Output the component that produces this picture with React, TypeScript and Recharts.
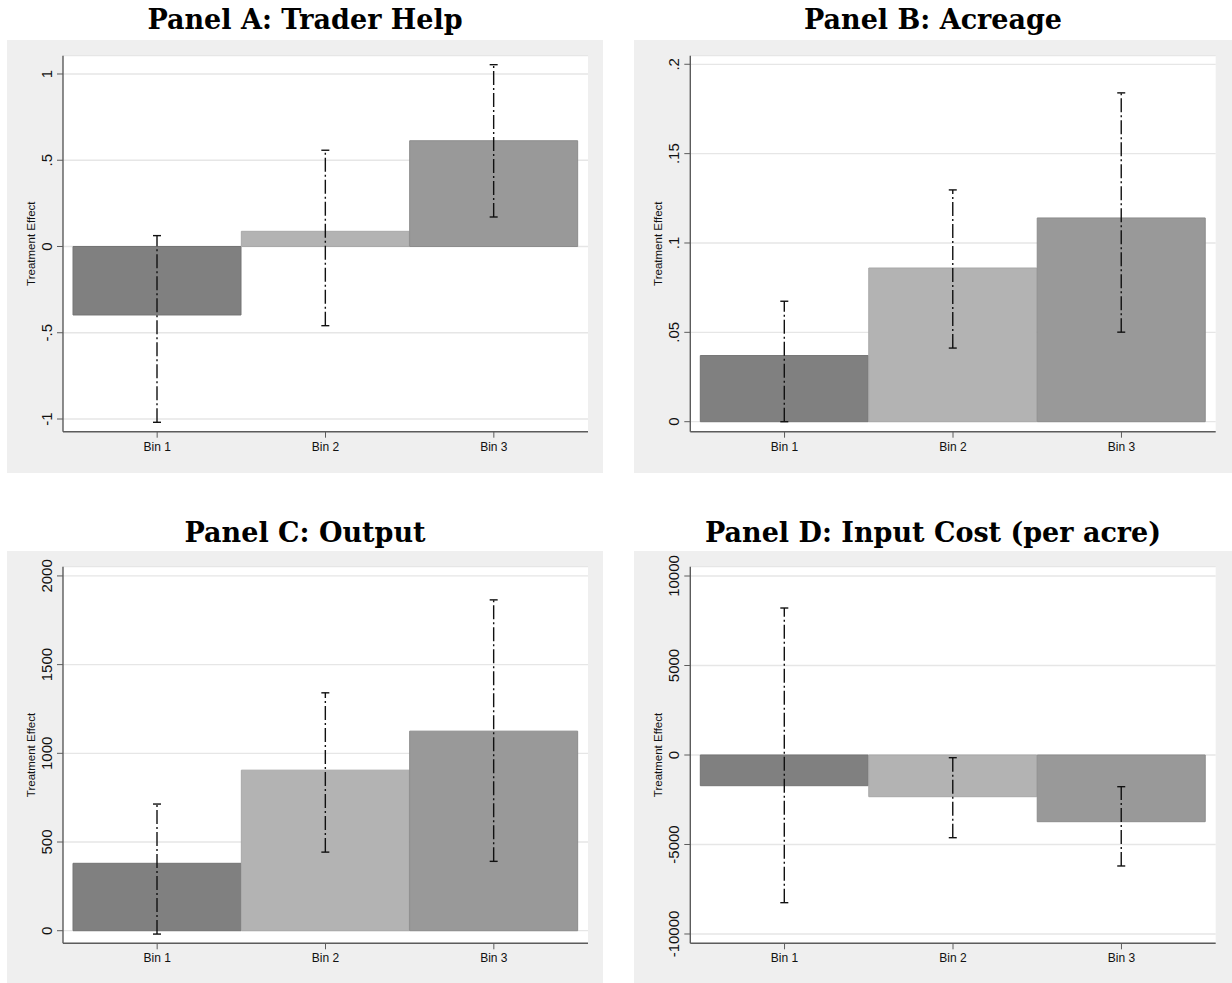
import React from 'react';
import { BarChart, Bar, XAxis, YAxis, CartesianGrid, ErrorBar, Cell } from 'recharts';

// ---------- data ----------
const bins = ['Bin 1', 'Bin 2', 'Bin 3'];
const barColors = ['#808080', '#b3b3b3', '#999999'];
const barStrokes = ['#747474', '#a8a8a8', '#8c8c8c'];

const traderHelpEffect = [-0.397, 0.088, 0.613];
const traderHelpLow = [-1.019, -0.459, 0.171];
const traderHelpHigh = [0.063, 0.558, 1.054];
const traderHelpTicks = [-1, -0.5, 0, 0.5, 1];
const traderHelpTickLabels = ['-1', '-.5', '0', '.5', '1'];

const acreageEffect = [0.037, 0.086, 0.114];
const acreageLow = [0.0, 0.0412, 0.0501];
const acreageHigh = [0.0674, 0.1297, 0.184];
const acreageTicks = [0, 0.05, 0.1, 0.15, 0.2];
const acreageTickLabels = ['0', '.05', '.1', '.15', '.2'];

const outputEffect = [380, 905, 1125];
const outputLow = [-19, 443, 391];
const outputHigh = [714, 1341, 1865];
const outputTicks = [0, 500, 1000, 1500, 2000];
const outputTickLabels = ['0', '500', '1000', '1500', '2000'];

const inputCostEffect = [-1715, -2330, -3726];
const inputCostLow = [-8250, -4620, -6200];
const inputCostHigh = [8212, -150, -1770];
const inputCostTicks = [-10000, -5000, 0, 5000, 10000];
const inputCostTickLabels = ['-10000', '-5000', '0', '5000', '10000'];

const panelTitles = [
  'Panel A: Trader Help',
  'Panel B: Acreage',
  'Panel C: Output',
  'Panel D: Input Cost (per acre)',
];
const yAxisTitle = 'Treatment Effect';

// ---------- helpers ----------
function buildRows(effect: number[], low: number[], high: number[]) {
  return bins.map((b, i) => ({
    bin: b,
    value: effect[i],
    err: [effect[i] - low[i], high[i] - effect[i]],
  }));
}

const SANS = '"Liberation Sans", Arial, Helvetica, sans-serif';
const AXIS_COLOR = '#5c5c5c';
const GRAY_BG = '#efefef';

type PanelProps = {
  left: number;
  top: number;
  width: number;
  height: number;
  plotLeft: number;
  plotRight: number;
  plotTop: number;
  plotBottom: number;
  domain: [number, number];
  ticks: number[];
  tickLabels: string[];
  rows: any[];
};

function Panel(p: PanelProps) {
  const YTick = (props: any) => {
    const { x, y, payload } = props;
    const idx = p.ticks.indexOf(payload.value);
    const label = idx >= 0 ? p.tickLabels[idx] : String(payload.value);
    const bx = x - 3;
    return (
      <text
        x={bx}
        y={y}
        textAnchor="middle"
        transform={`rotate(-90 ${bx} ${y})`}
        fontSize={15}
        fontFamily={SANS}
        fill="#111"
      >
        {label}
      </text>
    );
  };
  const XTick = (props: any) => {
    const { x, y, payload } = props;
    return (
      <text x={x} y={y + 11} textAnchor="middle" fontSize={12} fontFamily={SANS} fill="#111">
        {payload.value}
      </text>
    );
  };
  const YLabel = (props: any) => {
    const vb = props.viewBox || { x: 0, y: 0, width: 0, height: 0 };
    const lx = 28;
    const ly = vb.y + vb.height / 2;
    return (
      <text
        x={lx}
        y={ly}
        textAnchor="middle"
        transform={`rotate(-90 ${lx} ${ly})`}
        fontSize={11.5}
        fontFamily={SANS}
        fill="#111"
      >
        {yAxisTitle}
      </text>
    );
  };
  const yAxisWidth = p.plotLeft;
  const xAxisHeight = p.height - p.plotBottom;
  return (
    <div
      style={{
        position: 'absolute',
        left: p.left,
        top: p.top,
        width: p.width,
        height: p.height,
        background: GRAY_BG,
      }}
    >
      <BarChart
        width={p.width}
        height={p.height}
        data={p.rows}
        margin={{ top: p.plotTop, right: p.width - p.plotRight, left: 0, bottom: 0 }}
        barCategoryGap={0}
        barGap={0}
      >
        <CartesianGrid vertical={false} fill="#ffffff" stroke="#e6e6e6" strokeWidth={1.3} />
        <XAxis
          dataKey="bin"
          height={xAxisHeight}
          padding={{ left: 10, right: 10 }}
          axisLine={{ stroke: AXIS_COLOR, strokeWidth: 1.4 }}
          tickLine={{ stroke: AXIS_COLOR, strokeWidth: 1 }}
          tickSize={6}
          tickMargin={2}
          tick={<XTick />}
          interval={0}
        />
        <YAxis
          type="number"
          width={yAxisWidth}
          domain={p.domain}
          allowDataOverflow
          ticks={p.ticks}
          interval={0}
          axisLine={{ stroke: AXIS_COLOR, strokeWidth: 1.4 }}
          tickLine={{ stroke: AXIS_COLOR, strokeWidth: 1 }}
          tickSize={6}
          tickMargin={2}
          tick={<YTick />}
          label={<YLabel />}
        />
        <Bar dataKey="value" isAnimationActive={false} strokeWidth={1}>
          {p.rows.map((_, i) => (
            <Cell key={i} fill={barColors[i]} stroke={barStrokes[i]} />
          ))}
          <ErrorBar
            dataKey="err"
            direction="y"
            width={4}
            stroke="#111111"
            strokeWidth={1.4}
            strokeDasharray="14 3 2 3"
            isAnimationActive={false}
          />
        </Bar>
      </BarChart>
    </div>
  );
}

export default function App() {
  const rowsA = buildRows(traderHelpEffect, traderHelpLow, traderHelpHigh);
  const rowsB = buildRows(acreageEffect, acreageLow, acreageHigh);
  const rowsC = buildRows(outputEffect, outputLow, outputHigh);
  const rowsD = buildRows(inputCostEffect, inputCostLow, inputCostHigh);
  return (
    <div
      style={{
        position: 'absolute',
        left: 0,
        top: 0,
        width: 1232,
        height: 983,
        background: '#ffffff',
        overflow: 'hidden',
      }}
    >
      <Panel
        left={7}
        top={40}
        width={596}
        height={433}
        plotLeft={56}
        plotRight={581}
        plotTop={15.7}
        plotBottom={391.7}
        domain={[-1.0736, 1.106]}
        ticks={traderHelpTicks}
        tickLabels={traderHelpTickLabels}
        rows={rowsA}
      />
      <Panel
        left={634}
        top={40}
        width={598}
        height={433}
        plotLeft={56.3}
        plotRight={581.7}
        plotTop={15.7}
        plotBottom={391.7}
        domain={[-0.0056, 0.2048]}
        ticks={acreageTicks}
        tickLabels={acreageTickLabels}
        rows={rowsB}
      />
      <Panel
        left={7}
        top={551}
        width={596}
        height={432}
        plotLeft={56}
        plotRight={581}
        plotTop={15.7}
        plotBottom={392.3}
        domain={[-71, 2052]}
        ticks={outputTicks}
        tickLabels={outputTickLabels}
        rows={rowsC}
      />
      <Panel
        left={634}
        top={551}
        width={598}
        height={432}
        plotLeft={56.3}
        plotRight={581.7}
        plotTop={15.7}
        plotBottom={392.3}
        domain={[-10520, 10520]}
        ticks={inputCostTicks}
        tickLabels={inputCostTickLabels}
        rows={rowsD}
      />
      <svg
        width={1232}
        height={983}
        style={{ position: 'absolute', left: 0, top: 0, pointerEvents: 'none' }}
      >
        {[
          { x: 305, y: 29.3 },
          { x: 933, y: 29.3 },
          { x: 305, y: 541.7 },
          { x: 933, y: 541.7 },
        ].map((pos, i) => (
          <text
            key={i}
            x={pos.x}
            y={pos.y}
            textAnchor="middle"
            fontFamily='"DejaVu Serif", serif'
            fontWeight="bold"
            fontSize={27}
            fill="#000"
          >
            {panelTitles[i]}
          </text>
        ))}
      </svg>
    </div>
  );
}
